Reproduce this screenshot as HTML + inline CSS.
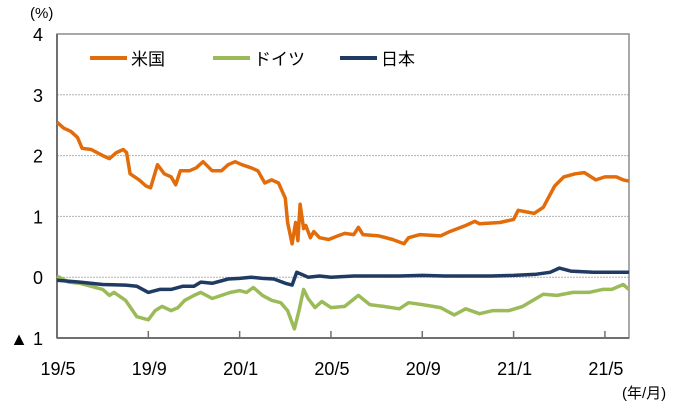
<!DOCTYPE html>
<html><head><meta charset="utf-8"><style>
html,body{margin:0;padding:0;background:#fff;}
svg{display:block;font-family:"Liberation Sans","Noto Sans CJK JP",sans-serif;}
</style></head><body>
<svg id="chart" width="682" height="405" viewBox="0 0 682 405" xmlns="http://www.w3.org/2000/svg"></svg>
<script>
const yTicks=[4,3,2,1,0,-1];
const yTickLabels=["4","3","2","1","0","▲ 1"];
const xTicks=[0,4,8,12,16,20,24];
const xTickLabels=["19/5","19/9","20/1","20/5","20/9","21/1","21/5"];
const seriesNames=["米国","ドイツ","日本"];
const usT=[0,0.3,0.6,0.9,1.1,1.5,2.0,2.3,2.6,2.9,3.05,3.2,3.6,3.9,4.1,4.4,4.7,5.0,5.2,5.4,5.8,6.1,6.4,6.8,7.2,7.5,7.8,8.1,8.5,8.8,9.1,9.4,9.7,10.0,10.1,10.3,10.45,10.55,10.65,10.8,10.9,11.1,11.25,11.5,11.9,12.3,12.6,13.0,13.2,13.4,14.1,14.7,15.2,15.4,15.9,16.8,17.2,17.9,18.3,18.5,19.4,20.0,20.2,20.9,21.3,21.8,22.2,22.7,23.1,23.6,24.0,24.5,24.8,25.05];
const usV=[2.55,2.45,2.4,2.3,2.12,2.1,2.0,1.95,2.05,2.1,2.05,1.7,1.6,1.5,1.47,1.85,1.7,1.65,1.52,1.75,1.75,1.8,1.9,1.75,1.75,1.85,1.9,1.85,1.8,1.75,1.55,1.6,1.55,1.3,0.9,0.55,0.9,0.6,1.2,0.8,0.85,0.65,0.75,0.65,0.62,0.68,0.72,0.7,0.82,0.7,0.68,0.62,0.55,0.65,0.7,0.68,0.75,0.85,0.92,0.88,0.9,0.95,1.1,1.05,1.15,1.5,1.65,1.7,1.72,1.6,1.65,1.65,1.6,1.58];
const deT=[0,0.5,1,1.5,2,2.3,2.5,3,3.5,4,4.3,4.6,5,5.3,5.6,6,6.3,6.8,7.2,7.6,8,8.3,8.6,9,9.4,9.8,10.1,10.4,10.6,10.8,11,11.3,11.6,12,12.6,13.2,13.7,14.3,15.0,15.4,16.0,16.8,17.4,17.9,18.5,19.1,19.8,20.4,21.3,21.9,22.6,23.3,23.9,24.3,24.8,25.05];
const deV=[0.02,-0.08,-0.1,-0.15,-0.2,-0.3,-0.25,-0.38,-0.65,-0.7,-0.55,-0.48,-0.55,-0.5,-0.38,-0.3,-0.25,-0.35,-0.3,-0.25,-0.22,-0.25,-0.17,-0.3,-0.38,-0.42,-0.55,-0.85,-0.55,-0.2,-0.35,-0.5,-0.4,-0.5,-0.48,-0.3,-0.45,-0.48,-0.52,-0.42,-0.45,-0.5,-0.62,-0.52,-0.6,-0.55,-0.55,-0.48,-0.28,-0.3,-0.25,-0.25,-0.2,-0.2,-0.12,-0.2];
const jpT=[0,1,2,3,3.5,4,4.5,5,5.5,6,6.3,6.8,7.5,8,8.5,9,9.5,10,10.3,10.5,10.7,11,11.5,12,13,14,15,16,17,18,19,20,21,21.6,22,22.5,23.5,24.5,25.05];
const jpV=[-0.05,-0.08,-0.12,-0.13,-0.15,-0.25,-0.2,-0.2,-0.15,-0.15,-0.08,-0.1,-0.03,-0.02,0,-0.02,-0.03,-0.1,-0.13,0.08,0.05,0,0.02,0,0.02,0.02,0.02,0.03,0.02,0.02,0.02,0.03,0.05,0.08,0.15,0.1,0.08,0.08,0.08];
const NS="http://www.w3.org/2000/svg";
const svg=document.getElementById('chart');
const L=57,R=629,T=34,B=338;
const xS=t=>L+t*22.83;
const yS=v=>T+(4-v)*(B-T)/5;
function mk(tag,attrs){const e=document.createElementNS(NS,tag);for(const k in attrs)e.setAttribute(k,attrs[k]);svg.appendChild(e);return e;}
yTicks.forEach((v,i)=>{
  if(v>-1&&v<4){const g=mk('line',{x1:L,x2:R,y1:yS(v),y2:yS(v),stroke:'#b0b0b0','stroke-width':1,'stroke-dasharray':'2,1'});
  
  }
  const t=mk('text',{x:43,y:yS(v)+7,'font-size':18,'text-anchor':'end',fill:'#000'});
  t.textContent=yTickLabels[i];
  
  
});
const fr=mk('rect',{x:L,y:T,width:R-L,height:B-T,fill:'none',stroke:'#8c8c8c','stroke-width':1.5});


const ax=mk('line',{x1:L,x2:R,y1:B,y2:B,stroke:'#707070','stroke-width':2});


const ay=mk('line',{x1:L,x2:L,y1:T,y2:B,stroke:'#707070','stroke-width':2});


xTicks.forEach((m,i)=>{
  const tk=mk('line',{x1:xS(m),x2:xS(m),y1:B,y2:B-7,stroke:'#707070','stroke-width':1.5});
  
  
  const t=mk('text',{x:xS(m)+1,y:375,'font-size':18,'text-anchor':'middle',fill:'#000'});
  t.textContent=xTickLabels[i];
  
  
});
const u=mk('text',{x:30,y:18,'font-size':15,fill:'#000'});u.textContent='(%)';


const u2=mk('text',{x:622,y:398,'font-size':15,fill:'#000'});u2.textContent='(年/月)';


function line(ts,vs,col,name){
  const d=ts.map((t,i)=>(i?'L':'M')+xS(t).toFixed(1)+','+yS(vs[i]).toFixed(1)).join(' ');
  const p=mk('path',{d:d,fill:'none',stroke:col,'stroke-width':3.5,'stroke-linejoin':'round'});
  
  
}
line(deT,deV,'#9bbb59','series-germany');
line(jpT,jpV,'#1f3b63','series-japan');
line(usT,usV,'#e36c0a','series-us');
const legCols=['#e36c0a','#9bbb59','#1f3b63'];
const legX=[90,213,340];
seriesNames.forEach((n,i)=>{
  const l=mk('line',{x1:legX[i],x2:legX[i]+37,y1:58,y2:58,stroke:legCols[i],'stroke-width':4});
  
  
  const t=mk('text',{x:legX[i]+41,y:65,'font-size':17,fill:'#000'});
  t.textContent=n;
  
  
});
</script>
</body></html>
